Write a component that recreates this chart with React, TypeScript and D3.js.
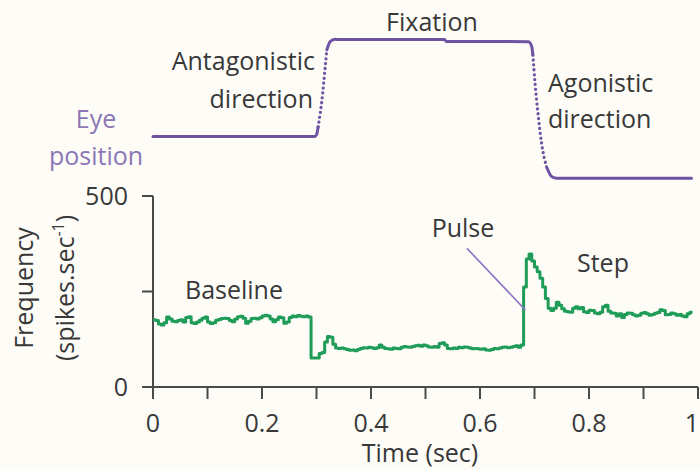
import React from "react";
import * as d3 from "d3";

// ---- Data ----
// Frequency (spikes/sec), binned at 5 ms starting at t = 0
const binWidth = 0.005;
const baselineRates = [
  176, 174, 165, 162, 168, 183, 178, 172, 171, 174,
  176, 170, 182, 184, 168, 166, 170, 175, 180, 183,
  170, 166, 168, 175, 177, 179, 180, 179, 174, 171,
  178, 184, 185, 180, 167, 172, 179, 180, 178, 181,
  186, 188, 186, 178, 171, 176, 183, 181, 167, 170,
  182, 186, 184, 187, 185, 184, 186, 183,
];
const antagonisticRates = [76, 76, 76, 88, 90, 118, 132, 130, 112, 102];
const fixationRates = [
  101, 102, 100, 98, 96, 97, 95, 98, 101, 103,
  102, 104, 103, 101, 103, 110, 104, 101, 100, 99,
  102, 101, 100, 104, 106, 105, 104, 106, 108, 109,
  107, 110, 108, 105, 104, 106, 104, 114, 116, 110,
  101, 100, 102, 101, 104, 103, 105, 104, 102, 100,
  101, 100, 99, 100, 97, 96, 98, 101, 100, 102,
  104, 105, 103, 104, 106, 108, 104, 110,
];
const pulseRates = [262, 335, 348, 330, 314, 302, 285, 262, 232, 206, 200, 206, 222, 214, 205, 198];
const stepRates = [
  197, 196, 206, 210, 205, 208, 197, 195, 201, 200,
  194, 192, 196, 210, 214, 198, 194, 193, 186, 192,
  182, 190, 194, 193, 189, 186, 188, 193, 195, 192,
  188, 190, 193, 195, 202, 200, 189, 190, 194, 192,
  188, 190, 186, 184, 192, 196,
];
const freqRates = [...baselineRates, ...antagonisticRates, ...fixationRates, ...pulseRates, ...stepRates];

// Eye position (arbitrary degrees), solid and dotted (saccade) pieces
const eyeSolid1T = [0, 0.297, 0.3, 0.303];
const eyeSolid1V = [0, 0, 0.12, 0.7];
const eyeDots1T = [0.303, 0.31, 0.316, 0.319];
const eyeDots1V = [0.7, 2.65, 5.04, 6.28];
const eyeSolid2T = [0.319, 0.325, 0.334, 0.34, 0.535, 0.538, 0.689, 0.695, 0.697];
const eyeSolid2V = [6.28, 6.88, 7.05, 7.04, 7.03, 6.9, 6.88, 6.51, 5.91];
const eyeDots2T = [0.697, 0.701, 0.707, 0.713, 0.722];
const eyeDots2V = [5.91, 3.86, 1.44, -0.49, -2.18];
const eyeSolid3T = [0.722, 0.732, 0.741, 0.988];
const eyeSolid3V = [-2.18, -2.91, -3.02, -3.02];

const xTicks = [0, 0.1, 0.2, 0.3, 0.4, 0.5, 0.6, 0.7, 0.8, 0.9, 1];
const xTickLabels = ["0", "", "0.2", "", "0.4", "", "0.6", "", "0.8", "", "1"];
const yTicks = [0, 250, 500];
const yTickLabels = ["0", "", "500"];

// ---- Layout ----
const W = 700;
const H = 470;
const x = d3.scaleLinear().domain([0, 1]).range([153, 698]);
const y = d3.scaleLinear().domain([0, 500]).range([387, 196]);
const yEye = d3.scaleLinear().domain([-3, 7]).range([178, 40]);

const FONT = "'Open Sans', 'DejaVu Sans', sans-serif";
const TEXT = "#383838";
const AXIS = "#4a4a4a";
const GREEN = "#1f9c58";
const PURPLE = "#6f53a3";
const PURPLE_TEXT = "#8b76b6";

export default function App() {
  const freqPts: [number, number][] = freqRates.map((v, i) => [i * binWidth, v]);
  freqPts.push([freqRates.length * binWidth, freqRates[freqRates.length - 1]]);
  const freqLine = d3
    .line<[number, number]>()
    .x((d) => x(d[0]))
    .y((d) => y(d[1]))
    .curve(d3.curveStepAfter);

  const eyeLine = d3
    .line<[number, number]>()
    .x((d) => x(d[0]))
    .y((d) => yEye(d[1]))
    .curve(d3.curveMonotoneX);
  const zip = (t: number[], v: number[]) => t.map((tt, i) => [tt, v[i]] as [number, number]);

  const solids = [zip(eyeSolid1T, eyeSolid1V), zip(eyeSolid2T, eyeSolid2V), zip(eyeSolid3T, eyeSolid3V)];
  const dots = [zip(eyeDots1T, eyeDots1V), zip(eyeDots2T, eyeDots2V)];

  return (
    <svg
      width={W}
      height={H}
      style={{ position: "absolute", left: 0, top: 0, display: "block" }}
      fontFamily={FONT}
    >
      <rect x={0} y={0} width={W} height={H} fill="#fdfcf7" />

      {/* Eye position trace */}
      {solids.map((s, i) => (
        <path key={"s" + i} d={eyeLine(s) || ""} fill="none" stroke={PURPLE} strokeWidth={3} strokeLinecap="round" />
      ))}
      {dots.map((s, i) => (
        <path
          key={"d" + i}
          d={eyeLine(s) || ""}
          fill="none"
          stroke={PURPLE}
          strokeWidth={3.2}
          strokeLinecap="round"
          strokeDasharray="0.1 4.8"
        />
      ))}

      {/* Eye labels */}
      <g fontSize={25} fill={TEXT}>
        <text x={315} y={70} textAnchor="end">Antagonistic</text>
        <text x={313} y={108} textAnchor="end">direction</text>
        <text x={432} y={31} textAnchor="middle">Fixation</text>
        <text x={548} y={92}>Agonistic</text>
        <text x={548} y={128}>direction</text>
      </g>
      <g fontSize={25} fill={PURPLE_TEXT} textAnchor="middle">
        <text x={96} y={128}>Eye</text>
        <text x={96} y={165}>position</text>
      </g>

      {/* Axes */}
      <g stroke={AXIS} strokeWidth={2} fill="none">
        <line x1={x(0)} x2={x(0)} y1={y(500)} y2={y(0)} />
        <line x1={x(0)} x2={x(1)} y1={y(0)} y2={y(0)} />
        {yTicks.map((t) => (
          <line key={"yt" + t} x1={x(0) - 11} x2={x(0)} y1={y(t)} y2={y(t)} />
        ))}
        {xTicks.map((t) => (
          <line key={"xt" + t} x1={x(t)} x2={x(t)} y1={y(0)} y2={y(0) + 12} />
        ))}
      </g>
      <g fontSize={25} fill={TEXT}>
        {yTicks.map((t, i) =>
          yTickLabels[i] ? (
            <text key={"yl" + t} x={128} y={y(t)} dy="0.35em" textAnchor="end">
              {yTickLabels[i]}
            </text>
          ) : null
        )}
        {xTicks.map((t, i) =>
          xTickLabels[i] ? (
            <text
              key={"xl" + t}
              x={t === 1 ? W - 1 : x(t)}
              y={432}
              textAnchor={t === 1 ? "end" : "middle"}
            >
              {xTickLabels[i]}
            </text>
          ) : null
        )}
        <text x={420} y={462} textAnchor="middle">Time (sec)</text>
        <text transform="translate(33,288) rotate(-90)" textAnchor="middle">Frequency</text>
        <text transform="translate(74,288) rotate(-90)" textAnchor="middle">
          (spikes.sec
          <tspan fontSize={16} dy={-10}>-1</tspan>
          <tspan dy={10}>)</tspan>
        </text>
      </g>

      {/* Frequency trace */}
      <path d={freqLine(freqPts) || ""} fill="none" stroke={GREEN} strokeWidth={3} strokeLinejoin="round" />

      {/* Annotations */}
      <line x1={x(0.576)} y1={y(363)} x2={x(0.683)} y2={y(202)} stroke="#8e72c4" strokeWidth={1.6} />
      <g fontSize={25} fill={TEXT}>
        <text x={185} y={299}>Baseline</text>
        <text x={463} y={237} textAnchor="middle">Pulse</text>
        <text x={577} y={272}>Step</text>
      </g>
    </svg>
  );
}
